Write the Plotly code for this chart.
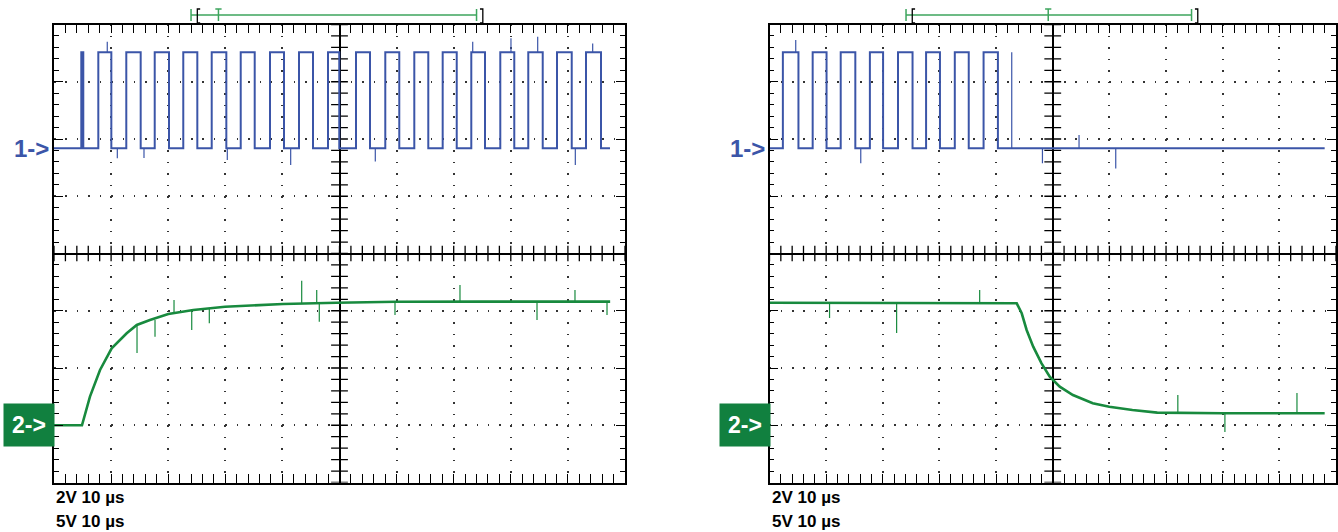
import plotly.graph_objects as go

W, H = 1338, 532

# ---------------- data (time in µs, 10 µs/div; volts) ----------------
# Channel 1 (2 V/div): edge times, trace starts LOW and toggles at each edge
ch1_left_edges = [-45.22, -44.87, -42.24, -39.96, -37.34, -34.82, -32.36, -29.86,
                  -27.36, -24.90, -22.38, -19.82, -17.30, -14.85, -12.17, -9.72,
                  -7.09, -4.64, -2.01, -0.04, 2.89, 5.34, 8.02, 10.47, 13.10, 15.55,
                  18.07, 20.53, 23.08, 25.48, 28.16, 30.61, 33.06, 35.59, 38.09,
                  40.67, 43.17, 45.80]
ch1_left_span = [-50.0, 47.37]
ch1_right_edges = [-47.64, -44.89, -42.38, -39.93, -37.43, -34.85, -32.28, -29.95,
                   -27.32, -24.75, -22.36, -19.91, -17.29, -14.83, -12.21, -9.68]
ch1_right_span = [-50.0, 48.0]
ch1_levels = [0.0, 3.35]          # low, high (V)

# glitches: (time, from V, to V)
ch1_left_spikes = [(-40.67, 3.35, 3.72), (-38.91, 0.0, -0.35), (-34.24, 0.0, -0.34),
                   (-19.65, 0.0, -0.41), (-8.55, 0.0, -0.59), (6.27, 0.0, -0.47),
                   (23.33, 3.35, 3.72), (30.03, 3.35, 3.84), (34.71, 3.35, 3.89),
                   (41.30, 0.0, -0.59), (44.34, 3.35, 3.66)]
ch1_right_spikes = [(-45.37, 3.35, 3.78), (-33.89, 0.0, -0.53), (-7.24, 0.0, 3.35),
                    (-1.82, 0.0, -0.53), (4.64, 0.0, 0.46), (11.12, 0.0, -0.71)]

# Channel 2 (5 V/div)
ch2_left_t = [-50.0, -45.1, -43.7, -41.94, -39.9, -37.27, -35.5, -33.2, -29.98, -25.6,
              -20.05, -15.67, -9.89, -0.49, 10.0, 25.0, 40.0, 47.4]
ch2_left_v = [0.0, 0.0, 2.5, 4.83, 6.72, 8.03, 8.76, 9.19, 9.72, 10.07,
              10.35, 10.44, 10.59, 10.70, 10.78, 10.80, 10.80, 10.80]
ch2_right_t = [-50.0, -6.36, -5.48, -4.61, -3.45, -1.98, -0.53, 1.23, 3.56, 7.06,
               9.98, 14.06, 18.44, 30.0, 48.0]
ch2_right_v = [10.70, 10.65, 9.78, 8.32, 6.86, 5.41, 4.24, 3.37, 2.64, 1.92,
               1.62, 1.33, 1.10, 1.05, 1.05]
ch2_left_spikes = [(-35.46, 8.7, 6.31), (-32.31, 9.2, 7.73), (-28.98, 9.75, 10.94),
                   (-25.88, 10.07, 8.32), (-22.80, 10.2, 8.90), (-6.62, 10.65, 12.62),
                   (-3.99, 10.68, 11.81), (-3.54, 10.68, 9.04), (9.72, 10.78, 9.63),
                   (21.10, 10.8, 12.25), (34.59, 10.8, 9.19), (41.24, 10.8, 11.81),
                   (46.85, 10.8, 9.63)]
ch2_right_spikes = [(-39.4, 10.7, 9.37), (-27.56, 10.7, 8.06), (-12.9, 10.7, 11.81),
                    (22.08, 1.05, 2.64), (30.39, 1.05, -0.59), (43.11, 1.05, 2.82)]

ch1_scale, ch1_offset_div = 2.0, 1.84     # V/div, ground position (div)
ch2_scale, ch2_offset_div = 5.0, -3.0
scale_labels = ["2V 10 µs", "5V 10 µs"]
window = [[-26.0, 24.0, -21.2], [-25.9, 24.5, -0.8]]   # trigger window start/end, T

BLUE = "#3b55a8"
GREEN = "#188a3e"
BOXGREEN = "#11803f"
TRIG = "#3da55d"
FONT = "Liberation Sans, Arial, sans-serif"

# ---------------- geometry ----------------
panels = [dict(x0=54, x1=625), dict(x0=769.5, x1=1336)]
top_px, bot_px = 24.5, 482.5


def px_y(p):
    return 1 - p / H


def step_series(edges, span):
    xs = [span[0]] + list(edges) + [span[1]]
    ys = []
    lvl = 0
    ys.append(ch1_levels[lvl])
    for _ in edges:
        lvl = 1 - lvl
        ys.append(ch1_levels[lvl])
    ys.append(ch1_levels[lvl])
    return xs, ys


def spike_series(spikes):
    xs, ys = [], []
    for t, a, b in spikes:
        xs += [t, t, None]
        ys += [a, b, None]
    return xs, ys


fig = go.Figure()
layout = dict(width=W, height=H, margin=dict(l=0, r=0, t=0, b=0),
              paper_bgcolor="white", plot_bgcolor="white", showlegend=False)

data_sets = [
    (ch1_left_edges, ch1_left_span, ch1_left_spikes, ch2_left_t, ch2_left_v, ch2_left_spikes),
    (ch1_right_edges, ch1_right_span, ch1_right_spikes, ch2_right_t, ch2_right_v, ch2_right_spikes),
]

annotations = []
shapes = []
for i, pn in enumerate(panels):
    xa = "xaxis" if i == 0 else "xaxis2"
    xr = "x" if i == 0 else "x2"
    g_id, c1_id, c2_id = (1, 2, 3) if i == 0 else (4, 5, 6)
    ya_g = "yaxis" if g_id == 1 else f"yaxis{g_id}"
    yr_g = "y" if g_id == 1 else f"y{g_id}"
    dom_x = [pn["x0"] / W, pn["x1"] / W]
    dom_y = [px_y(bot_px), px_y(top_px)]
    wpx = pn["x1"] - pn["x0"]
    hpx = bot_px - top_px
    common = dict(showline=True, linecolor="black", linewidth=1.6, mirror="allticks",
                  ticks="inside", tickcolor="black", tickwidth=1.2, ticklen=9,
                  showticklabels=False, zeroline=True, zerolinecolor="black",
                  zerolinewidth=1.8, showgrid=True, gridcolor="#333", gridwidth=1.5,
                  fixedrange=True)
    layout[xa] = dict(common, domain=dom_x, range=[-50, 50], anchor=yr_g, tick0=0, dtick=10,
                      griddash=f"1.5px,{hpx/40-1.5:.2f}px",
                      minor=dict(ticks="inside", ticklen=5, tickwidth=1.2, tickcolor="black",
                                 dtick=2, tick0=0, showgrid=False))
    layout[ya_g] = dict(common, domain=dom_y, range=[-4, 4], anchor=xr, tick0=0, dtick=1,
                        griddash=f"1.5px,{wpx/50-1.5:.2f}px",
                        minor=dict(ticks="inside", ticklen=5, tickwidth=1.2, tickcolor="black",
                                   dtick=0.2, tick0=0, showgrid=False))
    r1 = [(-4 - ch1_offset_div) * ch1_scale, (4 - ch1_offset_div) * ch1_scale]
    r2 = [(-4 - ch2_offset_div) * ch2_scale, (4 - ch2_offset_div) * ch2_scale]
    layout[f"yaxis{c1_id}"] = dict(overlaying=yr_g, anchor=xr, range=r1, visible=False, fixedrange=True)
    layout[f"yaxis{c2_id}"] = dict(overlaying=yr_g, anchor=xr, range=r2, visible=False, fixedrange=True)

    # centre-axis cross ticks
    fig.add_trace(go.Scatter(x=[k * 2 for k in range(-25, 26)], y=[0] * 51, xaxis=xr, yaxis=yr_g,
                             mode="markers", hoverinfo="skip",
                             marker=dict(symbol="line-ns", size=11, color="black",
                                         line=dict(width=1.3, color="black"))))
    fig.add_trace(go.Scatter(x=[0] * 41, y=[k * 0.2 for k in range(-20, 21)], xaxis=xr, yaxis=yr_g,
                             mode="markers", hoverinfo="skip",
                             marker=dict(symbol="line-ew", size=12, color="black",
                                         line=dict(width=1.3, color="black"))))

    e, sp, s1, t2, v2, s2 = data_sets[i]
    # channel 2
    fig.add_trace(go.Scatter(x=t2, y=v2, xaxis=xr, yaxis=f"y{c2_id}", mode="lines",
                             line=dict(color=GREEN, width=2.6), hoverinfo="skip"))
    sx, sy = spike_series(s2)
    fig.add_trace(go.Scatter(x=sx, y=sy, xaxis=xr, yaxis=f"y{c2_id}", mode="lines",
                             line=dict(color=GREEN, width=1.2), hoverinfo="skip"))
    # channel 1
    x1, y1 = step_series(e, sp)
    fig.add_trace(go.Scatter(x=x1, y=y1, xaxis=xr, yaxis=f"y{c1_id}", mode="lines",
                             line=dict(color=BLUE, width=2.0, shape="hv"), hoverinfo="skip"))
    sx, sy = spike_series(s1)
    fig.add_trace(go.Scatter(x=sx, y=sy, xaxis=xr, yaxis=f"y{c1_id}", mode="lines",
                             line=dict(color=BLUE, width=1.2), hoverinfo="skip"))

    # channel markers
    annotations.append(dict(text="<b>1-></b>", x=(pn["x0"] - 3) / W, xref="paper", xanchor="right",
                            y=0, yref=f"y{c1_id}", yanchor="middle", showarrow=False,
                            font=dict(family=FONT, size=24, color=BLUE)))
    annotations.append(dict(text="<b>2-></b>", x=(pn["x0"] - 51) / W, xref="paper", xanchor="left",
                            y=0, yref=f"y{c2_id}", yanchor="middle", showarrow=False,
                            width=46, height=38, borderpad=2, bgcolor=BOXGREEN, align="center",
                            font=dict(family=FONT, size=23, color="white")))
    # scale text
    for k, lab in enumerate(scale_labels):
        annotations.append(dict(text=f"<b>{lab}</b>", x=pn["x0"] / W, xref="paper", xanchor="left",
                                y=px_y(497.5 + 23.5 * k), yref="paper", yanchor="middle",
                                showarrow=False, font=dict(family=FONT, size=17, color="black")))
    # trigger window bar
    ws, we, wt = window[i]
    yl, ytop, ybot = px_y(15), px_y(9), px_y(21)
    shapes.append(dict(type="line", xref=xr, yref="paper", x0=ws, x1=we, y0=yl, y1=yl,
                       line=dict(color=TRIG, width=1.5)))
    for xx in (ws, we):
        shapes.append(dict(type="line", xref=xr, yref="paper", x0=xx, x1=xx, y0=ytop, y1=ybot,
                           line=dict(color=TRIG, width=1.5)))
    # T marker
    shapes.append(dict(type="line", xref=xr, yref="paper", x0=wt, x1=wt, y0=ytop, y1=ybot,
                       line=dict(color=TRIG, width=1.5)))
    shapes.append(dict(type="line", xref=xr, yref="paper", x0=wt - 0.55, x1=wt + 0.55, y0=ytop, y1=ytop,
                       line=dict(color=TRIG, width=1.5)))
    # brackets
    bl, br = ws + 1.1, we + 1.1
    shapes.append(dict(type="path", xref=xr, yref="paper",
                       path=f"M {bl+0.5},{ytop} L {bl},{ytop} L {bl},{px_y(23)} L {bl+0.5},{px_y(23)}",
                       line=dict(color="black", width=1.3)))
    shapes.append(dict(type="path", xref=xr, yref="paper",
                       path=f"M {br-0.5},{ytop} L {br},{ytop} L {br},{px_y(23)} L {br-0.5},{px_y(23)}",
                       line=dict(color="black", width=1.3)))

layout["annotations"] = annotations
layout["shapes"] = shapes
fig.update_layout(**layout)
fig.write_html("out.html", config={"displayModeBar": False},
               post_script="document.body.style.margin='0';document.body.style.overflow='hidden';")
